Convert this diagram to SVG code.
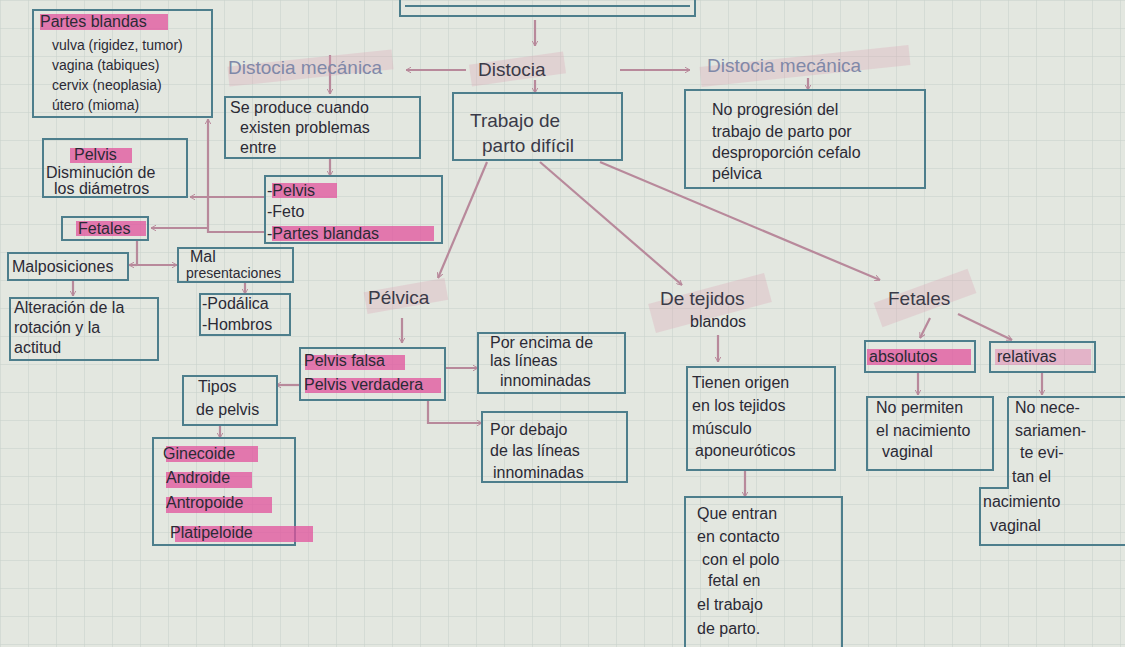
<svg xmlns="http://www.w3.org/2000/svg" width="1125" height="647" viewBox="0 0 1125 647">
<style>
.bx{fill:none;stroke:#4d7e8c;stroke-width:2}
.t{font-family:"Liberation Sans",Arial,sans-serif;font-size:16px;fill:#2b2a35}
.h{font-family:"Liberation Sans",Arial,sans-serif;font-size:19px;fill:#3a3a48}
.hl{fill:#e2529c;opacity:.75}
.sc{fill:#d9a3b4;opacity:.3}
.c{fill:none;stroke:#b8899b;stroke-width:2.2}
.ca{fill:none;stroke:#b8899b;stroke-width:2.2;marker-end:url(#ah)}
</style>
<defs>
<pattern id="grid" width="28" height="28" patternUnits="userSpaceOnUse">
<path d="M28 0H0V28" fill="none" stroke="#c6cfc9" stroke-width="1"/>
</pattern>
<marker id="ah" viewBox="0 0 10 10" refX="9" refY="5" markerWidth="6" markerHeight="6" orient="auto-start-reverse" markerUnits="userSpaceOnUse">
<path d="M0 0L9 5L0 10" fill="none" stroke="#b8899b" stroke-width="1.6"/>
</marker>
</defs>
<rect width="1125" height="647" fill="#e3e7e0"/>
<rect width="1125" height="647" fill="url(#grid)"/>

<g id="connectors">
<path class="ca" d="M535 20V46"/>
<path class="ca" d="M535 80V93"/>
<path class="ca" d="M466 70H406"/>
<path class="ca" d="M620 70H690"/>
<path class="ca" d="M808 78V90"/>
<path class="ca" d="M330 55V94"/>
<path class="ca" d="M330 158V176"/>
<path class="ca" d="M265 197H190"/>
<path class="ca" d="M265 232H208V119"/>
<path class="ca" d="M208 228H151"/>
<path class="c" d="M137 240V265"/>
<path class="ca" d="M137 265H177"/>
<path class="ca" d="M137 265H129"/>
<path class="ca" d="M73 280V296"/>
<path class="ca" d="M245 282V294"/>
<path class="ca" d="M487 162L438 278"/>
<path class="ca" d="M540 162L682 285"/>
<path class="ca" d="M600 162L880 280"/>
<path class="ca" d="M402 318V343"/>
<path class="ca" d="M445 368H478"/>
<path class="ca" d="M428 400V423H482"/>
<path class="ca" d="M300 385H276"/>
<path class="ca" d="M220 425V438"/>
<path class="ca" d="M718 335V362"/>
<path class="ca" d="M745 470V497"/>
<path class="ca" d="M930 318L920 338"/>
<path class="ca" d="M958 314L1012 340"/>
<path class="ca" d="M918 372V395"/>
<path class="ca" d="M1042 372V395"/>
</g>

<g id="top-box"><rect class="bx" x="400" y="-10" width="295" height="26"/><path class="bx" d="M405 6H690"/></g>

<g id="distocia">
<rect class="sc" x="470" y="58" width="95" height="22" transform="rotate(-8 517 69)"/>
<text class="h" x="478" y="76">Distocia</text>
</g>

<g id="trabajo">
<rect class="bx" x="453" y="93" width="169" height="67"/>
<text class="h" x="470" y="127">Trabajo de</text>
<text class="h" x="482" y="152">parto difícil</text>
</g>

<g id="distocia-mecanica-izq">
<rect class="sc" x="228" y="58" width="165" height="20" transform="rotate(-6 310 68)"/>
<text class="h" x="228" y="74" style="fill:#7f88a8">Distocia mecánica</text>
</g>

<g id="distocia-mecanica-der">
<rect class="sc" x="700" y="56" width="210" height="20" transform="rotate(-6 805 66)"/>
<text class="h" x="707" y="72" style="fill:#7f88a8">Distocia mecánica</text>
</g>

<g id="no-progresion">
<rect class="bx" x="685" y="90" width="240" height="98"/>
<text class="t" x="712" y="115">No progresión del</text>
<text class="t" x="712" y="137">trabajo de parto por</text>
<text class="t" x="712" y="158">desproporción cefalo</text>
<text class="t" x="712" y="179">pélvica</text>
</g>

<g id="se-produce">
<rect class="bx" x="225" y="97" width="195" height="61"/>
<text class="t" x="230" y="113">Se produce cuando</text>
<text class="t" x="240" y="133">existen problemas</text>
<text class="t" x="240" y="153">entre</text>
</g>

<g id="pelvis-feto-partes">
<rect class="bx" x="265" y="176" width="177" height="67"/>
<rect class="hl" x="272" y="183" width="65" height="15"/>
<rect class="hl" x="272" y="226" width="162" height="15"/>
<text class="t" x="267" y="196">-Pelvis</text>
<text class="t" x="267" y="217">-Feto</text>
<text class="t" x="267" y="239">-Partes blandas</text>
</g>

<g id="partes-blandas">
<rect class="bx" x="33" y="10" width="179" height="107"/>
<rect class="hl" x="40" y="14" width="128" height="16"/>
<text class="t" x="40" y="27">Partes blandas</text>
<text class="t" x="52" y="50" style="font-size:14px">vulva (rigidez, tumor)</text>
<text class="t" x="52" y="70" style="font-size:14px">vagina (tabiques)</text>
<text class="t" x="52" y="90" style="font-size:14px">cervix (neoplasia)</text>
<text class="t" x="52" y="110" style="font-size:14px">útero (mioma)</text>
</g>

<g id="pelvis">
<rect class="bx" x="43" y="139" width="144" height="58"/>
<rect class="hl" x="70" y="148" width="62" height="15"/>
<text class="t" x="74" y="160">Pelvis</text>
<text class="t" x="46" y="178">Disminución de</text>
<text class="t" x="54" y="194">los diámetros</text>
</g>

<g id="fetales-izq">
<rect class="bx" x="62" y="217" width="86" height="23"/>
<rect class="hl" x="76" y="221" width="70" height="15"/>
<text class="t" x="78" y="234">Fetales</text>
</g>

<g id="malposiciones">
<rect class="bx" x="8" y="253" width="120" height="27"/>
<text class="t" x="12" y="272">Malposiciones</text>
</g>

<g id="mal-presentaciones">
<rect class="bx" x="178" y="248" width="115" height="34"/>
<text class="t" x="190" y="262">Mal</text>
<text class="t" x="186" y="278" style="font-size:14px">presentaciones</text>
</g>

<g id="alteracion">
<rect class="bx" x="10" y="298" width="148" height="62"/>
<text class="t" x="14" y="313">Alteración de la</text>
<text class="t" x="14" y="333">rotación y la</text>
<text class="t" x="14" y="353">actitud</text>
</g>

<g id="podalica">
<rect class="bx" x="200" y="294" width="90" height="41"/>
<text class="t" x="202" y="309">-Podálica</text>
<text class="t" x="202" y="330">-Hombros</text>
</g>

<g id="pelvica">
<rect class="sc" x="365" y="285" width="82" height="22" transform="rotate(-10 406 296)"/>
<text class="h" x="368" y="304">Pélvica</text>
</g>

<g id="pelvis-falsa">
<rect class="bx" x="300" y="348" width="145" height="52"/>
<rect class="hl" x="305" y="355" width="100" height="15"/>
<rect class="hl" x="305" y="378" width="136" height="15"/>
<text class="t" x="304" y="366">Pelvis falsa</text>
<text class="t" x="304" y="390">Pelvis verdadera</text>
</g>

<g id="por-encima">
<rect class="bx" x="478" y="333" width="147" height="60"/>
<text class="t" x="490" y="348">Por encima de</text>
<text class="t" x="490" y="366">las líneas</text>
<text class="t" x="500" y="386">innominadas</text>
</g>

<g id="por-debajo">
<rect class="bx" x="482" y="412" width="145" height="70"/>
<text class="t" x="490" y="435">Por debajo</text>
<text class="t" x="490" y="456">de las líneas</text>
<text class="t" x="493" y="478">innominadas</text>
</g>

<g id="tipos-pelvis">
<rect class="bx" x="183" y="376" width="94" height="49"/>
<text class="t" x="198" y="392">Tipos</text>
<text class="t" x="196" y="415">de pelvis</text>
</g>

<g id="tipos-lista">
<rect class="bx" x="153" y="438" width="142" height="107"/>
<rect class="hl" x="166" y="446" width="92" height="16"/>
<rect class="hl" x="166" y="472" width="86" height="16"/>
<rect class="hl" x="166" y="497" width="106" height="16"/>
<rect class="hl" x="175" y="526" width="138" height="16"/>
<text class="t" x="163" y="459">Ginecoide</text>
<text class="t" x="166" y="483">Androide</text>
<text class="t" x="166" y="508">Antropoide</text>
<text class="t" x="170" y="538">Platipeloide</text>
</g>

<g id="tejidos-blandos">
<rect class="sc" x="650" y="288" width="120" height="30" transform="rotate(-15 710 303)"/>
<text class="h" x="660" y="305">De tejidos</text>
<text class="t" x="690" y="327">blandos</text>
</g>

<g id="tienen-origen">
<rect class="bx" x="687" y="367" width="148" height="103"/>
<text class="t" x="692" y="388">Tienen origen</text>
<text class="t" x="692" y="411">en los tejidos</text>
<text class="t" x="692" y="434">músculo</text>
<text class="t" x="695" y="456">aponeuróticos</text>
</g>

<g id="que-entran">
<path class="bx" d="M685 660V497H842V660"/>
<text class="t" x="697" y="519">Que entran</text>
<text class="t" x="697" y="542">en contacto</text>
<text class="t" x="702" y="565">con el polo</text>
<text class="t" x="708" y="586">fetal en</text>
<text class="t" x="697" y="610">el trabajo</text>
<text class="t" x="697" y="634">de parto.</text>
</g>

<g id="fetales-der">
<rect class="sc" x="875" y="285" width="100" height="26" transform="rotate(-20 925 298)"/>
<text class="h" x="888" y="305">Fetales</text>
</g>

<g id="absolutos">
<rect class="bx" x="865" y="341" width="110" height="31"/>
<rect class="hl" x="867" y="349" width="104" height="16"/>
<text class="t" x="869" y="362">absolutos</text>
</g>

<g id="relativas">
<rect class="bx" x="990" y="342" width="105" height="30"/>
<rect class="hl" x="995" y="349" width="96" height="16" style="opacity:.35"/>
<text class="t" x="997" y="362">relativas</text>
</g>

<g id="no-permiten">
<rect class="bx" x="867" y="397" width="126" height="73"/>
<text class="t" x="876" y="413">No permiten</text>
<text class="t" x="876" y="436">el nacimiento</text>
<text class="t" x="882" y="457">vaginal</text>
</g>

<g id="no-necesariamente">
<path class="bx" d="M1008 397H1125M1008 397V488H980V545H1125"/>
<text class="t" x="1015" y="413">No nece-</text>
<text class="t" x="1015" y="436">sariamen-</text>
<text class="t" x="1020" y="458">te evi-</text>
<text class="t" x="1012" y="482">tan el</text>
<text class="t" x="983" y="507">nacimiento</text>
<text class="t" x="990" y="531">vaginal</text>
</g>
</svg>
